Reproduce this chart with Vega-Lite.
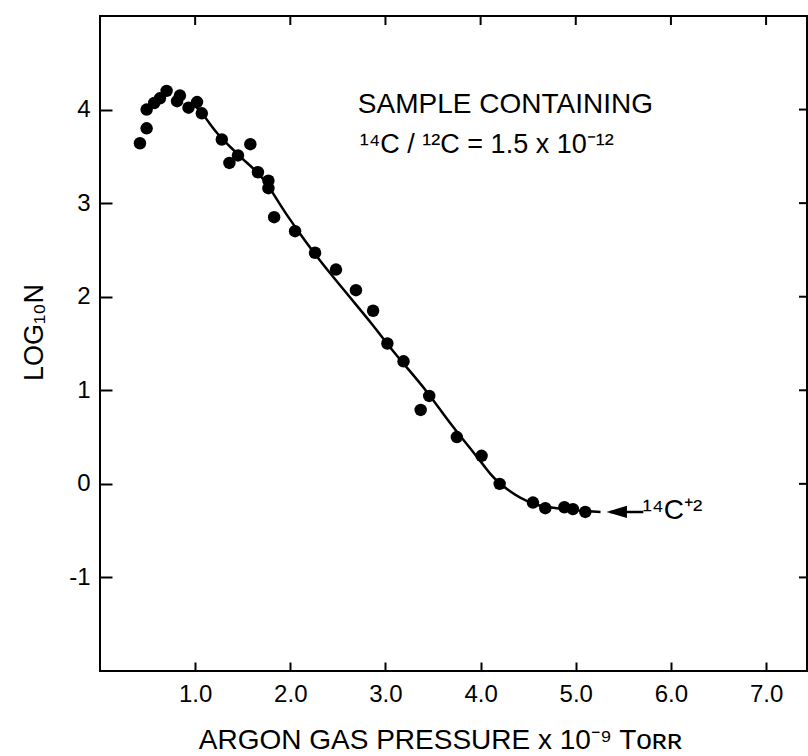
{
  "$schema": "https://vega.github.io/schema/vega-lite/v6.json",
  "width": 707,
  "height": 655,
  "autosize": {"type": "none"},
  "padding": {"left": 100, "top": 16, "right": 1, "bottom": 85},
  "background": "white",
  "config": {
    "view": {"stroke": "black", "strokeWidth": 2},
    "font": "Liberation Sans",
    "axis": {
      "grid": false,
      "domain": false,
      "tickColor": "black",
      "tickWidth": 2,
      "labelColor": "black",
      "titleColor": "black",
      "labelFont": "Liberation Sans",
      "titleFont": "Liberation Sans",
      "labelFontWeight": "normal",
      "titleFontWeight": "normal"
    }
  },
  "datasets": {
    "counts": [
      {"pressure": 0.42, "logN": 3.64},
      {"pressure": 0.49, "logN": 3.80},
      {"pressure": 0.49, "logN": 4.00},
      {"pressure": 0.57, "logN": 4.07},
      {"pressure": 0.63, "logN": 4.12},
      {"pressure": 0.70, "logN": 4.20},
      {"pressure": 0.81, "logN": 4.09},
      {"pressure": 0.84, "logN": 4.15},
      {"pressure": 0.93, "logN": 4.02},
      {"pressure": 1.02, "logN": 4.08},
      {"pressure": 1.07, "logN": 3.96},
      {"pressure": 1.28, "logN": 3.68},
      {"pressure": 1.36, "logN": 3.43},
      {"pressure": 1.45, "logN": 3.51},
      {"pressure": 1.58, "logN": 3.63},
      {"pressure": 1.66, "logN": 3.33},
      {"pressure": 1.77, "logN": 3.24},
      {"pressure": 1.77, "logN": 3.16},
      {"pressure": 1.83, "logN": 2.85},
      {"pressure": 2.05, "logN": 2.70},
      {"pressure": 2.26, "logN": 2.47},
      {"pressure": 2.48, "logN": 2.29},
      {"pressure": 2.69, "logN": 2.07},
      {"pressure": 2.87, "logN": 1.85},
      {"pressure": 3.02, "logN": 1.50},
      {"pressure": 3.19, "logN": 1.31},
      {"pressure": 3.37, "logN": 0.79},
      {"pressure": 3.46, "logN": 0.94},
      {"pressure": 3.75, "logN": 0.50},
      {"pressure": 4.01, "logN": 0.30},
      {"pressure": 4.20, "logN": 0.00},
      {"pressure": 4.55, "logN": -0.20},
      {"pressure": 4.68, "logN": -0.26},
      {"pressure": 4.88, "logN": -0.25},
      {"pressure": 4.97, "logN": -0.27},
      {"pressure": 5.10, "logN": -0.30}
    ],
    "fit": [
      {"pressure": 1.00, "logN": 4.04},
      {"pressure": 1.07, "logN": 3.96},
      {"pressure": 1.23, "logN": 3.75},
      {"pressure": 1.44, "logN": 3.53},
      {"pressure": 1.72, "logN": 3.25},
      {"pressure": 1.96, "logN": 2.88},
      {"pressure": 2.14, "logN": 2.62},
      {"pressure": 2.31, "logN": 2.39},
      {"pressure": 2.59, "logN": 2.04},
      {"pressure": 2.84, "logN": 1.73},
      {"pressure": 3.08, "logN": 1.42},
      {"pressure": 3.43, "logN": 0.99},
      {"pressure": 3.71, "logN": 0.61},
      {"pressure": 3.89, "logN": 0.38},
      {"pressure": 4.03, "logN": 0.20},
      {"pressure": 4.10, "logN": 0.11},
      {"pressure": 4.31, "logN": -0.08},
      {"pressure": 4.55, "logN": -0.21},
      {"pressure": 4.87, "logN": -0.27},
      {"pressure": 5.26, "logN": -0.30}
    ],
    "topTicks": [
      {"pressure": 1, "logN": 4.952},
      {"pressure": 2, "logN": 4.952},
      {"pressure": 3, "logN": 4.952},
      {"pressure": 4, "logN": 4.952},
      {"pressure": 5, "logN": 4.952},
      {"pressure": 6, "logN": 4.952},
      {"pressure": 7, "logN": 4.952}
    ],
    "rightTicks": [
      {"pressure": 7.388, "logN": -1},
      {"pressure": 7.388, "logN": 0},
      {"pressure": 7.388, "logN": 1},
      {"pressure": 7.388, "logN": 2},
      {"pressure": 7.388, "logN": 3},
      {"pressure": 7.388, "logN": 4}
    ],
    "single": [{}]
  },
  "layer": [
    {
      "data": {"name": "fit"},
      "mark": {"type": "line", "color": "black", "strokeWidth": 2.5, "interpolate": "monotone"},
      "encoding": {
        "x": {
          "field": "pressure",
          "type": "quantitative",
          "scale": {"domain": [0, 7.43], "nice": false, "zero": false},
          "axis": {
            "orient": "bottom",
            "values": [1, 2, 3, 4, 5, 6, 7],
            "tickSize": -9,
            "labelPadding": 20,
            "labelFontSize": 24,
            "title": "ARGON  GAS  PRESSURE x 10⁻⁹ Tᴏʀʀ",
            "titleFontSize": 28,
            "titleAnchor": "start",
            "titleAlign": "center",
            "titleBaseline": "alphabetic",
            "titleX": 340,
            "titleY": 77
          }
        },
        "y": {
          "field": "logN",
          "type": "quantitative",
          "scale": {"domain": [-2, 5], "nice": false, "zero": false},
          "axis": {
            "orient": "left",
            "values": [-1, 0, 1, 2, 3, 4],
            "labelExpr": "'' + datum.value",
            "tickSize": -12,
            "labelPadding": 22,
            "labelFontSize": 24,
            "title": "LOG₁₀N",
            "titleFontSize": 27,
            "titleAngle": -90,
            "titleAlign": "center",
            "titleBaseline": "middle",
            "titleX": -66,
            "titleY": 316
          }
        }
      }
    },
    {
      "data": {"name": "counts"},
      "mark": {"type": "point", "filled": true, "color": "black", "opacity": 1, "size": 155},
      "encoding": {
        "x": {"field": "pressure", "type": "quantitative"},
        "y": {"field": "logN", "type": "quantitative"}
      }
    },
    {
      "data": {"name": "topTicks"},
      "mark": {"type": "tick", "orient": "vertical", "color": "black", "opacity": 1, "size": 9, "thickness": 2},
      "encoding": {
        "x": {"field": "pressure", "type": "quantitative"},
        "y": {"field": "logN", "type": "quantitative"}
      }
    },
    {
      "data": {"name": "rightTicks"},
      "mark": {"type": "tick", "orient": "horizontal", "color": "black", "opacity": 1, "size": 8, "thickness": 2},
      "encoding": {
        "x": {"field": "pressure", "type": "quantitative"},
        "y": {"field": "logN", "type": "quantitative"}
      }
    },
    {
      "data": {"name": "single"},
      "mark": {"type": "rule", "color": "black", "strokeWidth": 2.5},
      "encoding": {
        "x": {"datum": 5.36, "type": "quantitative"},
        "x2": {"datum": 5.71},
        "y": {"datum": -0.30, "type": "quantitative"}
      }
    },
    {
      "data": {"name": "single"},
      "mark": {"type": "point", "filled": true, "color": "black", "opacity": 1, "size": 420, "shape": "M -1 0 L 1 -0.6 L 1 0.6 Z"},
      "encoding": {
        "x": {"datum": 5.43, "type": "quantitative"},
        "y": {"datum": -0.30, "type": "quantitative"}
      }
    },
    {
      "data": {"name": "single"},
      "mark": {"type": "text", "align": "left", "baseline": "alphabetic", "fontSize": 28, "color": "black", "text": "SAMPLE  CONTAINING"},
      "encoding": {
        "x": {"datum": 2.71, "type": "quantitative"},
        "y": {"datum": 3.96, "type": "quantitative"}
      }
    },
    {
      "data": {"name": "single"},
      "mark": {"type": "text", "align": "left", "baseline": "alphabetic", "fontSize": 27, "color": "black", "text": "¹⁴C / ¹²C = 1.5 x 10⁻¹²"},
      "encoding": {
        "x": {"datum": 2.73, "type": "quantitative"},
        "y": {"datum": 3.54, "type": "quantitative"}
      }
    },
    {
      "data": {"name": "single"},
      "mark": {"type": "text", "align": "left", "baseline": "alphabetic", "fontSize": 28, "color": "black", "text": "¹⁴C⁺²"},
      "encoding": {
        "x": {"datum": 5.70, "type": "quantitative"},
        "y": {"datum": -0.38, "type": "quantitative"}
      }
    }
  ]
}
